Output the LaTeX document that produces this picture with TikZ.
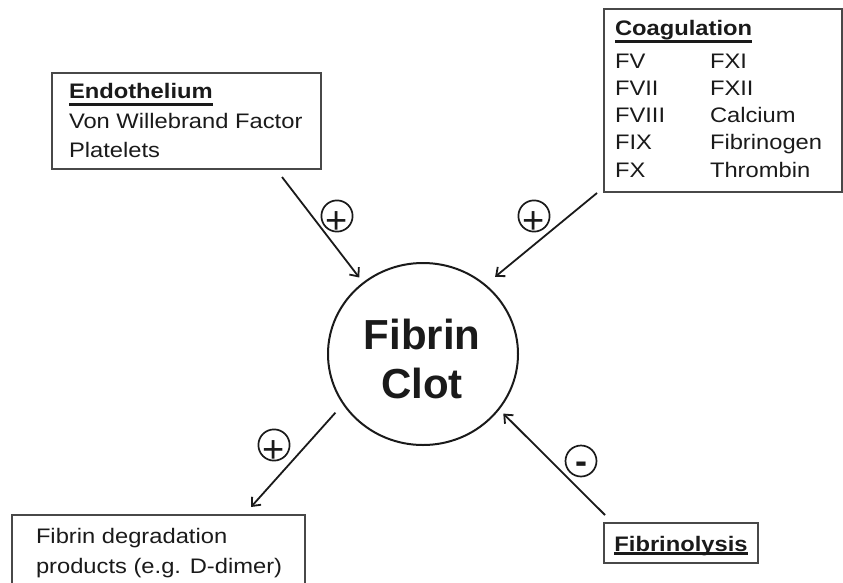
\documentclass[tikz,border=0pt]{standalone}
\usepackage{fontspec}
\setmainfont{Liberation Sans}
\newfontfamily\boxfont{Liberation Sans}[FakeStretch=1.13]
\usetikzlibrary{arrows.meta,shapes.geometric}
\definecolor{ink}{HTML}{1A1A1A}
\newcommand{\ulined}[2][6.6pt]{\setbox0=\hbox{#2}%
  \makebox[0pt][l]{\smash{\rule[\dimexpr-#1-1.4pt\relax]{\wd0}{2.8pt}}}\box0}
\newcommand{\signmark}[2]{\vphantom{+}\smash{\raisebox{#1}{#2}}}

\begin{document}
\begin{tikzpicture}[x=1pt,y=-1pt,
  every node/.style={inner sep=0pt,outer sep=0pt,text=ink},
  txt/.style={anchor=base west,font=\boxfont\fontsize{21}{25}\selectfont},
  box/.style={draw=ink!80,line width=1.1pt,anchor=north west},
  sign/.style={circle,draw=ink,line width=1.7pt,minimum size=31pt},
  link/.style={draw=ink,line width=1.8pt,-{Straight Barb[length=7pt,width=12pt]}}]
  \useasboundingbox (0,0) rectangle (843,582);

  \node[box,minimum width=269pt,minimum height=96pt] (endo) at (52,73) {};
  \node[txt] (endohead) at (69,98) {\ulined{\bfseries Endothelium}};
  \node[txt] (vwf) at (69,128) {Von Willebrand Factor};
  \node[txt] (plt) at (69,157) {Platelets};

  \node[box,minimum width=238pt,minimum height=183pt] (coag) at (604,9) {};
  \node[txt] (coaghead) at (615,35) {\ulined{\bfseries Coagulation}};
  \node[txt] (fv) at (615,68) {FV};
  \node[txt] (fxi) at (710,68) {FXI};
  \node[txt] (fvii) at (615,95.3) {FVII};
  \node[txt] (fxii) at (710,95.3) {FXII};
  \node[txt] (fviii) at (615,122.5) {FVIII};
  \node[txt] (calcium) at (710,122.5) {Calcium};
  \node[txt] (fix) at (615,149.8) {FIX};
  \node[txt] (fibrinogen) at (710,149.8) {Fibrinogen};
  \node[txt] (fx) at (615,177) {FX};
  \node[txt] (thrombin) at (710,177) {Thrombin};

  \node[box,minimum width=293pt,minimum height=90pt] (fdp) at (12,515) {};
  \node[txt] (fdpone) at (36,543) {Fibrin degradation};
  \node[txt] (fdptwo) at (36,573) {products (e.g. D-dimer)};

  \node[box,minimum width=154pt,minimum height=40pt] (lysis) at (604,523) {};
  \node[txt,anchor=base] (lysishead) at (681,551)
    {\ulined[2.5pt]{\bfseries Fibrinolysis}};

  \node[ellipse,draw=ink,line width=2pt,minimum width=190pt,
    minimum height=182pt] (clot) at (423,354) {};
  \node[anchor=base,font=\bfseries\fontsize{42}{50}\selectfont]
    (fibrinword) at (422,349) {Fibrin};
  \node[anchor=base,font=\bfseries\fontsize{42}{50}\selectfont]
    (clotword) at (422,398) {Clot};

  \coordinate (endoout) at (282,177);
  \coordinate (coagout) at (597,193);
  \coordinate (fdpin) at (251,507);
  \coordinate (lysisout) at (605,515);

  \draw[link,shorten >=7pt] (endoout) -- (clot.130);
  \draw[link,shorten >=13pt] (coagout) -- (clot.48);
  \draw[link,shorten <=12pt] (clot.212) -- (fdpin);
  \draw[link,shorten >=6.5pt] (lysisout) -- (clot.324);

  \node[sign,font=\fontsize{38}{38}\selectfont] (plusendo) at (337,216)
    {\signmark{-6.7pt}{+}};
  \node[sign,font=\fontsize{38}{38}\selectfont] (pluscoag) at (534,216)
    {\signmark{-6.7pt}{+}};
  \node[sign,font=\fontsize{38}{38}\selectfont] (plusfdp) at (274,445)
    {\signmark{-6.7pt}{+}};
  \node[sign,font=\bfseries\fontsize{36}{36}\selectfont] (minuslysis) at (581,461)
    {\signmark{-1.6pt}{-}};
\end{tikzpicture}
\end{document}
